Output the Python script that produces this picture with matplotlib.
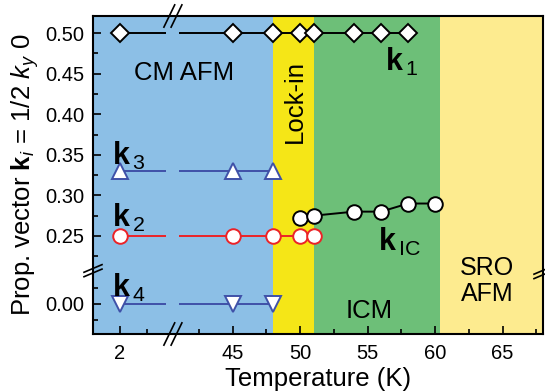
import matplotlib
matplotlib.use("Agg")
import matplotlib.pyplot as plt
import numpy as np

plt.rcParams['font.family'] = ['Liberation Sans', 'DejaVu Sans']
plt.rcParams['mathtext.fontset'] = 'custom'
plt.rcParams['mathtext.rm'] = 'Liberation Sans'
plt.rcParams['mathtext.it'] = 'Liberation Sans:italic'
plt.rcParams['mathtext.bf'] = 'Liberation Sans:bold'

# data
k1_T = [2, 45, 48, 50, 51, 54, 56, 58]
k1_k = [0.5, 0.5, 0.5, 0.5, 0.5, 0.5, 0.5, 0.5]
k3_T = [2, 45, 48]
k3_k = [0.33, 0.33, 0.33]
k2_T = [2, 45, 48, 50, 51]
k2_k = [0.25, 0.25, 0.25, 0.25, 0.25]
k4_T = [2, 45, 48]
k4_k = [0.0, 0.0, 0.0]
kic_T = [50, 51, 54, 56, 58, 60]
kic_k = [0.272, 0.275, 0.28, 0.28, 0.29, 0.29]

# phase regions (K)
phases = [(0, 48, '#8cbfe6'), (48, 51, '#f5e617'), (51, 60.4, '#6dbf78'), (60.4, 68, '#fdeb8f')]

xticks = [2, 45, 50, 55, 60, 65]
xminor = [4, 42.5, 47.5, 52.5, 57.5, 62.5, 67.5]
yticks = [0.0, 0.25, 0.30, 0.35, 0.40, 0.45, 0.50]
yminor = [-0.025, 0.025, 0.225, 0.275, 0.325, 0.375, 0.425, 0.475]

# broken axes
XOFF = 34.65
def xf(x):
    x = np.asarray(x, dtype=float)
    return np.where(x < 20, x, x - XOFF)
def xi(v):
    v = np.asarray(v, dtype=float)
    return np.where(v < 5.85, v, v + XOFF)

YOFF = 0.1663
YK = 0.788
def yf(y):
    y = np.asarray(y, dtype=float)
    return np.where(y > 0.15, y, YK * y + YOFF)
def yi(v):
    v = np.asarray(v, dtype=float)
    return np.where(v > 0.207, v, (v - YOFF) / YK)

fig = plt.figure(figsize=(5.45, 3.92), dpi=100)
ax = fig.add_axes([93/545, 1 - 334/392, 450/545, 318/392])
ax.set_xscale('function', functions=(xf, xi))
ax.set_yscale('function', functions=(yf, yi))
ax.set_xlim(0, 68)
ax.set_ylim(-0.047, 0.521)

for a, b, c in phases:
    ax.axvspan(a, b, color=c, lw=0, zorder=0)

blue = '#3f51a8'
red = '#ec2227'
series = [
    (k1_T, k1_k, 'black', 'D', 'black', 9.5),
    (k3_T, k3_k, blue, '^', blue, 11),
    (k2_T, k2_k, red, 'o', red, 10.5),
    (k4_T, k4_k, blue, 'v', blue, 11),
    (kic_T, kic_k, 'black', 'o', 'black', 10.5),
]
for T, k, lc, m, ec, ms in series:
    ax.plot(T, k, '-', color=lc, lw=1.4, zorder=2)
    ax.plot(T, k, ls='none', marker=m, ms=ms, mfc='white', mec=ec, mew=1.4, zorder=3)

# gap in the lines at the x-break
ax.axvspan(5.4, 41.0, color=phases[0][2], lw=0, zorder=2.5)

ax.set_xticks(xticks)
ax.set_xticklabels([str(t) for t in xticks])
ax.set_xticks(xminor, minor=True)
ax.set_yticks(yticks)
ax.set_yticklabels(['%.2f' % t for t in yticks])
ax.set_yticks(yminor, minor=True)
ax.tick_params(which='both', direction='in', top=False, right=False, labelsize=14.5, width=1.2)
ax.tick_params(which='major', length=6)
ax.tick_params(which='minor', length=3.5)
ax.tick_params(axis='x', pad=7)
ax.tick_params(axis='y', pad=6)
for s in ax.spines.values():
    s.set_linewidth(1.5)

ax.set_xlabel('Temperature (K)', fontsize=18.5, labelpad=3)
ax.set_ylabel(r'Prop. vector $\mathbf{k}_i$ = 1/2 $k_y$ 0', fontsize=18.5, labelpad=3)

# break marks (axes fraction)
def brk(x, y, dx, dy, sep_x, sep_y):
    for s in (0, 1):
        ax.plot([x - dx + s*sep_x, x + dx + s*sep_x], [y - dy + s*sep_y, y + dy + s*sep_y],
                color='black', lw=1.2, clip_on=False, transform=ax.transAxes, zorder=6)

bx = (172 - 93) / 450
brk(bx - 0.006, 1.0, 0.012, 0.035, 0.016, 0.0)
brk(bx - 0.006, 0.0, 0.012, 0.035, 0.016, 0.0)
by = (334 - 271) / 318
brk(0.0, by - 0.006, 0.02, 0.012, 0.0, 0.014)
brk(1.0, by - 0.012, 0.02, 0.012, 0.0, 0.014)

# labels
tx = dict(transform=ax.transAxes, ha='center', va='center')
ax.text(0.202, 0.821, 'CM AFM', fontsize=18.5, **tx)
ax.text(0.449, 0.730, 'Lock-in', fontsize=18.5, rotation=90, **tx)
ax.text(0.613, 0.072, 'ICM', fontsize=18.5, **tx)
ax.text(0.876, 0.167, 'SRO\nAFM', fontsize=18, linespacing=1.1, **tx)
ax.text(0.686, 0.855, r'$\mathbf{k}_{\,1}$', fontsize=22, **tx)
ax.text(0.078, 0.560, r'$\mathbf{k}_{\,3}$', fontsize=22, **tx)
ax.text(0.078, 0.365, r'$\mathbf{k}_{\,2}$', fontsize=22, **tx)
ax.text(0.080, 0.145, r'$\mathbf{k}_{\,4}$', fontsize=22, **tx)
ax.text(0.680, 0.290, r'$\mathbf{k}_{\,\mathrm{IC}}$', fontsize=22, **tx)

fig.savefig('out.png', dpi=100)
